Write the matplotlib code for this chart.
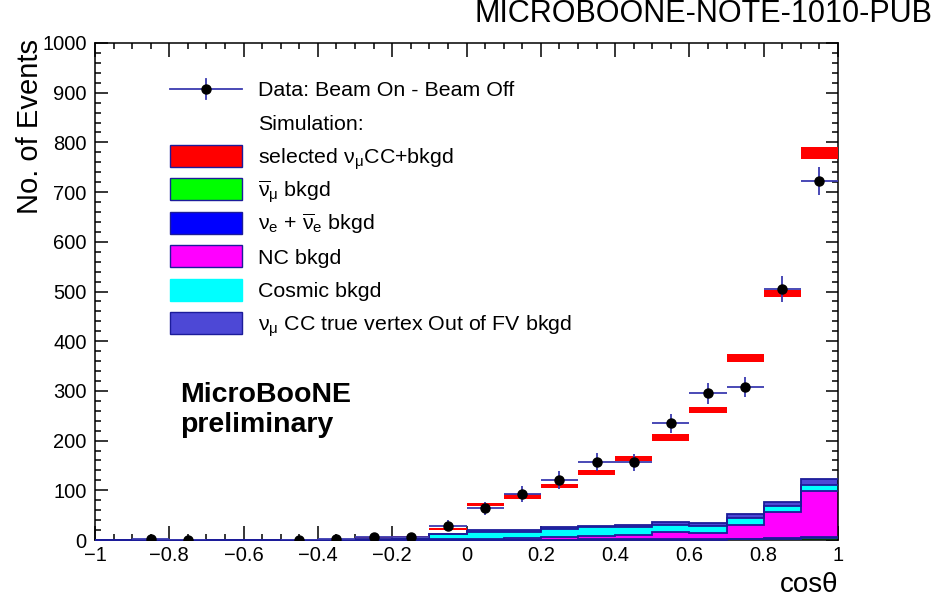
import numpy as np
import matplotlib
matplotlib.use("Agg")
import matplotlib.pyplot as plt
from matplotlib.patches import Rectangle
from matplotlib.lines import Line2D
from matplotlib.ticker import MultipleLocator

plt.rcParams["font.family"] = ["Liberation Sans", "DejaVu Sans"]
plt.rcParams["mathtext.fontset"] = "custom"
plt.rcParams["mathtext.rm"] = "Liberation Sans"
plt.rcParams["mathtext.it"] = "Liberation Sans"
plt.rcParams["mathtext.default"] = "regular"

# ---- binning in cos(theta) ----
edges = [-1.0, -0.9, -0.8, -0.7, -0.6, -0.5, -0.4, -0.3, -0.2, -0.1, 0.0,
         0.1, 0.2, 0.3, 0.4, 0.5, 0.6, 0.7, 0.8, 0.9, 1.0]

# ---- background components (events per bin) ----
numubar_bkg = [0, 0, 0, 0, 0, 0, 0, 0, 0, 0.2, 0.4, 0.5, 0.6, 0.7, 0.8, 1.0, 1.0, 1.5, 3.0, 5.0]
nue_bkg     = [0, 0, 0, 0, 0, 0, 0, 0, 0, 0.1, 0.2, 0.3, 0.3, 0.4, 0.4, 0.5, 0.5, 0.5, 0.5, 0.8]
nc_bkg      = [0, 0, 0, 0, 0, 0, 0, 0.5, 1.0, 1.2, 2.4, 3.2, 5.1, 7.9, 9.8, 14.5, 13.5, 28.0, 52.5, 93.0]
cosmic_bkg  = [0, 0, 0, 0, 0, 0, 0, 0.5, 1.0, 10.5, 14.0, 13.0, 17.0, 17.0, 16.0, 15.0, 14.0, 15.0, 12.0, 12.0]
oofv_bkg    = [0, 0, 0, 0, 0, 0, 0, 0.5, 1.0, 1.0, 3.0, 3.0, 3.0, 2.5, 4.0, 6.0, 6.0, 7.0, 8.0, 12.0]

# ---- total simulation (selected numu CC + backgrounds) and its stat. error ----
mc_total = [0, 0, 0, 0, 0, 0, 0, 5, 7, 22, 72, 88, 108, 136, 164, 206, 262, 366, 496, 778]
mc_err   = [0, 0, 0, 0, 0, 0, 0, 1.5, 1.5, 2, 3.4, 4.5, 4, 5, 5, 6.5, 6.5, 8, 8, 12]

# ---- data: beam-on minus beam-off ----
data     = [np.nan, 1.5, 1, np.nan, np.nan, 1, 1.5, 6, 7, 29, 64, 92, 121, 157, 156, 235, 295, 307, 505, 722]
data_err = [0, 2, 2, 0, 0, 2, 2, 4, 5, 11, 13, 16, 18, 18.5, 18, 19.5, 21, 20, 26, 28]

xtick_vals = [-1.0, -0.8, -0.6, -0.4, -0.2, 0.0, 0.2, 0.4, 0.6, 0.8, 1.0]
xtick_labels = ["\u22121", "\u22120.8", "\u22120.6", "\u22120.4", "\u22120.2", "0",
                "0.2", "0.4", "0.6", "0.8", "1"]
ytick_vals = [0, 100, 200, 300, 400, 500, 600, 700, 800, 900, 1000]

legend_labels = [
    "selected \u03bd$_{\u03bc}$CC+bkgd",
    "$\\overline{\u03bd}_{\u03bc}$ bkgd",
    "\u03bd$_{e}$ + $\\overline{\u03bd}_{e}$ bkgd",
    "NC bkgd",
    "Cosmic bkgd",
    "\u03bd$_{\u03bc}$ CC true vertex Out of FV bkgd",
]

RED = "#FF0000"
GREEN = "#00FF00"
BLUE = "#0000FF"
MAGENTA = "#FF00FF"
CYAN = "#00FFFF"
SLATE = "#4D48D6"
NAVY = "#1C1C9A"
ERRC = "#3A3AB0"

W, H = 939, 598
fig = plt.figure(figsize=(W / 100, H / 100), dpi=100)
ax = fig.add_axes([95 / W, 58 / H, (838 - 95) / W, (540 - 43) / H])

edges_a = np.array(edges)
centers = 0.5 * (edges_a[:-1] + edges_a[1:])
widths = np.diff(edges_a)

# stacked backgrounds
layers = [(numubar_bkg, GREEN), (nue_bkg, BLUE), (nc_bkg, MAGENTA),
          (cosmic_bkg, CYAN), (oofv_bkg, SLATE)]
base = np.zeros(len(centers))
tops = []
for vals, col in layers:
    top = base + np.array(vals, dtype=float)
    ax.stairs(top, edges_a, baseline=base, fill=True, color=col, lw=0, zorder=2)
    tops.append(top)
    base = top
for top in tops:
    ax.stairs(top, edges_a, baseline=None, color=NAVY, lw=1.3, zorder=3, clip_on=False)

# total simulation with error boxes
mc_t = np.array(mc_total, dtype=float)
mc_e = np.array(mc_err, dtype=float)
ax.bar(centers, 2 * mc_e, bottom=mc_t - mc_e, width=widths, color=RED,
       linewidth=0, zorder=4)

# data points
ax.errorbar(centers, data, xerr=widths / 2, yerr=data_err, fmt="o",
            color="black", ms=6.5, ecolor=ERRC, elinewidth=1.3, capsize=0,
            zorder=5, clip_on=True)

ax.set_xlim(-1, 1)
ax.set_ylim(0, 1000)
ax.set_xticks(xtick_vals, xtick_labels)
ax.set_yticks(ytick_vals)
ax.xaxis.set_minor_locator(MultipleLocator(0.05))
ax.yaxis.set_minor_locator(MultipleLocator(20))
ax.tick_params(which="both", direction="in", top=True, right=True,
               width=1.1, colors="black", labelsize=14.5)
ax.tick_params(axis="x", which="major", length=10, pad=4)
ax.tick_params(axis="x", which="minor", length=4.5)
ax.tick_params(axis="y", which="major", length=9, pad=6)
ax.tick_params(axis="y", which="minor", length=4.5)
for s in ax.spines.values():
    s.set_linewidth(1.1)

# axis titles
fig.text(30 / W, 1 - 127 / H, "No. of Events", rotation=90, ha="center",
         va="center", fontsize=21)
fig.text(838 / W, 1 - 592 / H, "cos\u03b8", ha="right", va="baseline", fontsize=20)

# labels on the canvas
fig.text(180 / W, 1 - 402 / H, "MicroBooNE", ha="left", va="baseline",
         fontsize=20.5, fontweight="bold")
fig.text(180 / W, 1 - 432 / H, "preliminary", ha="left", va="baseline",
         fontsize=20.5, fontweight="bold")
fig.text(932 / W, 1 - 22 / H, "MICROBOONE-NOTE-1010-PUB", ha="right",
         va="baseline", fontsize=22)

# legend
box_x0, box_x1, text_x = 170, 242, 258
row_y = [89, 122.5, 156, 189, 222.5, 256, 289.5, 323]
fx = lambda px: px / W
fy = lambda py: 1 - py / H

y0 = row_y[0]
fig.add_artist(Line2D([fx(box_x0), fx(box_x1)], [fy(y0), fy(y0)], color=ERRC, lw=1.3))
mx = 0.5 * (box_x0 + box_x1)
fig.add_artist(Line2D([fx(mx), fx(mx)], [fy(y0 - 10), fy(y0 + 10)], color=ERRC, lw=1.3))
fig.add_artist(Line2D([fx(mx)], [fy(y0)], marker="o", ms=6.5, color="black", lw=0))
fig.text(fx(text_x), fy(y0 + 7.5), "Data: Beam On - Beam Off", ha="left",
         va="baseline", fontsize=15.4)
fig.text(fx(text_x), fy(row_y[1] + 7.5), "Simulation:", ha="left",
         va="baseline", fontsize=15.4)

box_cols = [RED, GREEN, BLUE, MAGENTA, CYAN, SLATE]
box_edges = [NAVY, NAVY, NAVY, NAVY, CYAN, NAVY]
for i, (lab, col, ec) in enumerate(zip(legend_labels, box_cols, box_edges)):
    yc = row_y[i + 2]
    fig.add_artist(Rectangle((fx(box_x0), fy(yc + 11)), (box_x1 - box_x0) / W, 22 / H,
                             transform=fig.transFigure, facecolor=col,
                             edgecolor=ec, lw=1.0))
    fig.text(fx(text_x), fy(yc + 7.5), lab, ha="left", va="baseline", fontsize=15.4)

fig.savefig("out.png", dpi=100)
